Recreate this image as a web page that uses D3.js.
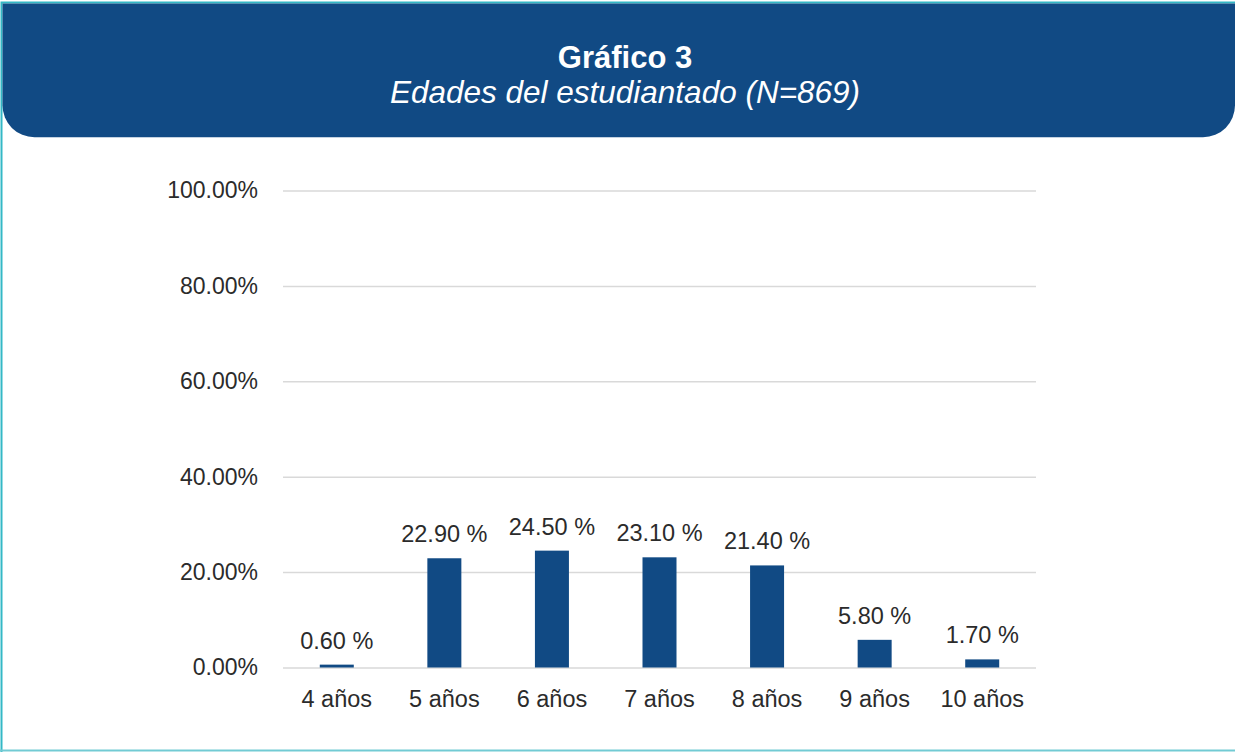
<!DOCTYPE html>
<html>
<head>
<meta charset="utf-8">
<script src="https://cdn.jsdelivr.net/npm/d3@7"></script>
<style>
  body { margin: 0; background: #fff; }
  svg { display: block; font-family: "Liberation Sans", Arial, sans-serif; }
</style>
</head>
<body>
<svg id="chart" width="1235" height="752"></svg>
<script>
// datos del grafico
var categorias = ["4 años", "5 años", "6 años", "7 años", "8 años", "9 años", "10 años"];
var porcentajes = [0.6, 22.9, 24.5, 23.1, 21.4, 5.8, 1.7];
var ticksY = [0, 20, 40, 60, 80, 100];
var titulo = "Gráfico 3";
var subtitulo = "Edades del estudiantado (N=869)";

var azul = "#114A84";
var gris = "#2B2B2B";
var svg = d3.select("#chart");

// marco y cabecera
svg.append("path")
    .attr("d", "M1.5,752 L1.5,2.5 L1235,2.5")
    .attr("fill", "none")
    .attr("stroke", "#33B8C6")
    .attr("stroke-width", 2);
svg.append("line")
    .attr("x1", 0).attr("x2", 1235).attr("y1", 750.5).attr("y2", 750.5)
    .attr("stroke", "#72CBD4").attr("stroke-width", 2);

var r = 32, hx = 2.5, hy = 3.5, hw = 1235, hb = 137.3;
svg.append("path")
    .attr("d", "M" + hx + "," + hy + " L" + hw + "," + hy +
        " L" + hw + "," + (hb - r) +
        " A" + r + "," + r + " 0 0 1 " + (hw - r) + "," + hb +
        " L" + (hx + r) + "," + hb +
        " A" + r + "," + r + " 0 0 1 " + hx + "," + (hb - r) + " Z")
    .attr("fill", azul);

svg.append("text").attr("x", 625).attr("y", 67.5)
    .attr("text-anchor", "middle").attr("fill", "#fff")
    .style("font-size", "31px").style("font-weight", "bold")
    .text(titulo);
svg.append("text").attr("x", 625).attr("y", 103)
    .attr("text-anchor", "middle").attr("fill", "#fff")
    .style("font-size", "31.5px").style("font-style", "italic")
    .text(subtitulo);

// area del grafico
var plotLeft = 283, plotRight = 1036, plotTop = 190.5, plotBottom = 667.5;

var x = d3.scaleBand().domain(categorias).range([plotLeft, plotRight]);
var y = d3.scaleLinear().domain([0, 100]).range([plotBottom, plotTop]);

var yAxis = svg.append("g")
    .attr("transform", "translate(" + plotLeft + ",0)")
    .call(d3.axisLeft(y).tickValues(ticksY)
        .tickSize(-(plotRight - plotLeft))
        .tickPadding(25)
        .tickFormat(function(d) { return d3.format(".2f")(d) + "%" }));
yAxis.select(".domain").remove();
yAxis.selectAll(".tick line").attr("stroke", "#D9D9D9").attr("stroke-width", 1.5);
yAxis.selectAll(".tick text")
    .attr("fill", gris)
    .style("font-size", "23px")
    .attr("font-family", null);

var xAxis = svg.append("g")
    .attr("transform", "translate(0," + plotBottom + ")")
    .call(d3.axisBottom(x).tickSize(0).tickPadding(23));
xAxis.select(".domain").remove();
xAxis.selectAll(".tick text")
    .attr("fill", gris)
    .style("font-size", "23.5px")
    .attr("font-family", null);

var barW = 34;
svg.append("g").selectAll("rect")
    .data(porcentajes)
    .join("rect")
    .attr("x", function(d, i) { return x(categorias[i]) + x.bandwidth() / 2 - barW / 2 })
    .attr("y", function(d) { return y(d) })
    .attr("width", barW)
    .attr("height", function(d) { return y(0) - y(d) })
    .attr("fill", azul);

svg.append("g").selectAll("text")
    .data(porcentajes)
    .join("text")
    .attr("x", function(d, i) { return x(categorias[i]) + x.bandwidth() / 2 })
    .attr("y", function(d) { return y(d) - 16 })
    .attr("text-anchor", "middle")
    .attr("fill", gris)
    .style("font-size", "23.5px")
    .text(function(d) { return d3.format(".2f")(d) + " %" });
</script>
</body>
</html>
